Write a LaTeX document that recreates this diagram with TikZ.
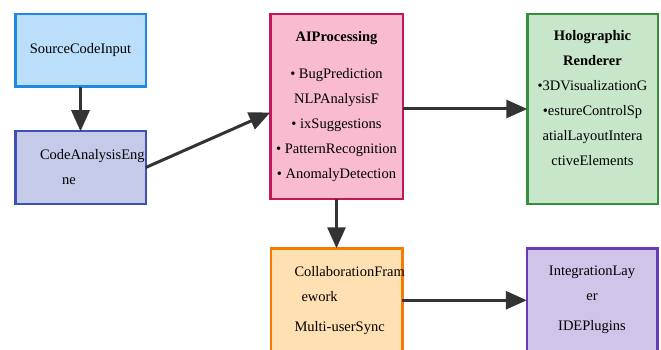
\documentclass[tikz,border=0pt]{standalone}
\usepackage{fontspec}
\setmainfont{Liberation Serif}
\usetikzlibrary{positioning,arrows.meta}
\definecolor{srcfill}{HTML}{BBDEFB}
\definecolor{srcdraw}{HTML}{1E88E5}
\definecolor{codefill}{HTML}{C5CAE9}
\definecolor{codedraw}{HTML}{3F51B5}
\definecolor{aifill}{HTML}{F8BBD0}
\definecolor{aidraw}{HTML}{C2185B}
\definecolor{holofill}{HTML}{C8E6C9}
\definecolor{holodraw}{HTML}{388E3C}
\definecolor{collabfill}{HTML}{FFE0B2}
\definecolor{collabdraw}{HTML}{F57C00}
\definecolor{integfill}{HTML}{D1C4E9}
\definecolor{integdraw}{HTML}{673AB7}
\definecolor{arrowgray}{HTML}{333333}

\begin{document}
\begin{tikzpicture}[
    x=1pt, y=-1pt,
    font=\fontsize{14.5}{25}\selectfont,
    box/.style={rectangle, line width=2.5pt, outer sep=0pt, text=black, align=center},
    srcbox/.style={box, fill=srcfill, draw=srcdraw, minimum width=130.5pt, minimum height=72.5pt},
    codebox/.style={box, fill=codefill, draw=codedraw, minimum width=130.5pt, minimum height=72.5pt,
                    text width=81pt, align=left},
    aibox/.style={box, fill=aifill, draw=aidraw, minimum width=132.5pt, minimum height=184.5pt},
    holobox/.style={box, fill=holofill, draw=holodraw, minimum width=130.5pt, minimum height=189.5pt},
    collabbox/.style={box, fill=collabfill, draw=collabdraw, minimum width=131.5pt, minimum height=104pt,
                      text width=84pt, align=left},
    integbox/.style={box, fill=integfill, draw=integdraw, minimum width=130.5pt, minimum height=104pt},
    arrow/.style={-{Triangle[length=21pt,width=18pt]}, line width=3pt, color=arrowgray}
]

\useasboundingbox (0,0) rectangle (661,350);
\clip (0,0) rectangle (661,350);

% Input side
\node[srcbox, anchor=north west] (src) at (15.25,14.25) {SourceCodeInput};
\node[codebox, below=44.5pt of src] (code) {CodeAnalysisEng\\\hspace*{22pt}ne};

% Processing core
\node[aibox, right=124.5pt of src.north east, anchor=north west] (ai)
     {\textbf{AIProcessing}\\[12pt]
      • BugPrediction\\ NLPAnalysisF\\ • ixSuggestions\\
      • PatternRecognition\\ • AnomalyDetection};
\node[holobox, right=124.5pt of ai.north east, anchor=north west] (holo)
     {\textbf{Holographic}\\ \textbf{Renderer}\\
      •3DVisualizationG\\ •estureControlSp\\ atialLayoutIntera\\ ctiveElements\\[-3pt]\mbox{}};

% Output side
\node[collabbox, below=49.5pt of ai] (collab)
     {\mbox{CollaborationFram}\\\hspace*{7pt}ework\\[5pt]\mbox{Multi-userSync}};
\node[integbox, right=124.5pt of collab] (integ)
     {IntegrationLay\\ er\\[5pt]IDEPlugins};

% Arrows
\draw[arrow] (src) -- (code);
\draw[arrow] (code.east) -- ([yshift=-6pt]ai.west);
\draw[arrow] (ai.east |- holo.west) -- (holo.west);
\draw[arrow] (ai) -- (collab);
\draw[arrow] (collab) -- (integ);

\end{tikzpicture}
\end{document}
